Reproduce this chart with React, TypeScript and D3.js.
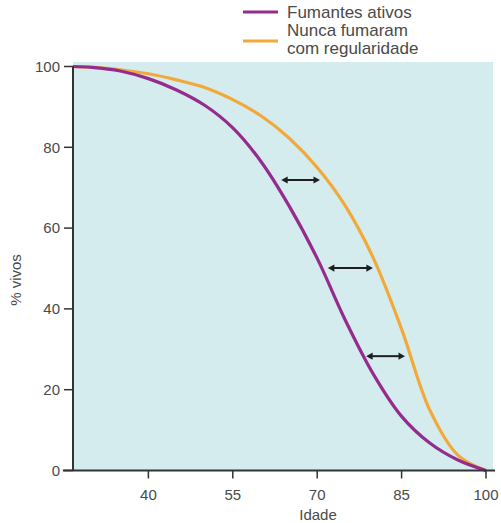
import React from "react";
import * as d3 from "d3";

const ages = [26.6, 30, 35, 40, 45, 50, 55, 60, 65, 70, 75, 80, 85, 90, 95, 100];
const smokers = [100, 99.8, 98.9, 97.0, 94.2, 90.4, 84.8, 76.5, 65.5, 52.5, 37.2, 23.8, 13.4, 6.8, 2.6, 0];
const neverSmoked = [100, 99.8, 99.2, 98.2, 96.7, 94.8, 91.8, 87.8, 82.3, 75, 65.5, 52.5, 35, 15, 3.8, 0];

const xTicks = [40, 55, 70, 85, 100];
const yTicks = [0, 20, 40, 60, 80, 100];

const arrowLevels = [71.9, 50.1, 28.3];
const arrowFrom = [63.6, 71.9, 78.7];
const arrowTo = [70.5, 79.9, 85.6];

const legendLabels = ["Fumantes ativos", "Nunca fumaram", "com regularidade"];
const xTitle = "Idade";
const yTitle = "% vivos";

const PURPLE = "#962b8e";
const ORANGE = "#f3a93a";
const FONT = "'Liberation Sans', Arial, sans-serif";
const TEXT = "#4a4a4a";
const AXIS = "#333";

export default function App() {
  const x = d3.scaleLinear().domain([26.6, 100]).range([73, 486]);
  const y = d3.scaleLinear().domain([0, 100]).range([470.5, 66.5]);
  const line = d3
    .line<[number, number]>()
    .x((d) => x(d[0]))
    .y((d) => y(d[1]))
    .curve(d3.curveCatmullRom.alpha(0.5));
  const pPath = line(ages.map((a, i) => [a, smokers[i]]) as [number, number][]) || "";
  const oPath = line(ages.map((a, i) => [a, neverSmoked[i]]) as [number, number][]) || "";

  const head = 6.5;
  const hw = 3.6;

  return (
    <svg
      width={501}
      height={523}
      style={{ position: "absolute", left: 0, top: 0, background: "#fff" }}
      fontFamily={FONT}
    >
      <rect x={x(26.6)} y={62} width={493 - x(26.6)} height={y(0) - 62} fill="#d4ecee" />
      <path d={oPath} fill="none" stroke={ORANGE} strokeWidth={3.2} />
      <path d={pPath} fill="none" stroke={PURPLE} strokeWidth={3.2} />

      {arrowLevels.map((lv, i) => {
        const x1 = x(arrowFrom[i]);
        const x2 = x(arrowTo[i]);
        const yy = y(lv);
        return (
          <g key={i} fill="#1e1e1e" stroke="#1e1e1e">
            <line x1={x1 + head - 1} x2={x2 - head + 1} y1={yy} y2={yy} strokeWidth={2} />
            <path d={`M${x1},${yy}L${x1 + head},${yy - hw}L${x1 + head},${yy + hw}Z`} stroke="none" />
            <path d={`M${x2},${yy}L${x2 - head},${yy - hw}L${x2 - head},${yy + hw}Z`} stroke="none" />
          </g>
        );
      })}

      {/* axes */}
      <line x1={x(24.8)} x2={x(101.6)} y1={y(0)} y2={y(0)} stroke={AXIS} strokeWidth={2} />
      <line x1={x(26.6)} x2={x(26.6)} y1={y(0)} y2={y(100)} stroke={AXIS} strokeWidth={2} />
      {yTicks.map((t) => (
        <g key={t}>
          <line x1={x(26.6) - 9} x2={x(26.6)} y1={y(t)} y2={y(t)} stroke={AXIS} strokeWidth={1.5} />
          <text x={60} y={y(t)} dy="0.35em" textAnchor="end" fontSize={15} fill={TEXT}>
            {t}
          </text>
        </g>
      ))}
      {xTicks.map((t) => (
        <g key={t}>
          <line x1={x(t)} x2={x(t)} y1={y(0)} y2={y(0) + 8} stroke={AXIS} strokeWidth={1.5} />
          <text x={x(t)} y={500} textAnchor="middle" fontSize={15} fill={TEXT}>
            {t}
          </text>
        </g>
      ))}
      <text x={318} y={520} textAnchor="middle" fontSize={15} fill={TEXT}>
        {xTitle}
      </text>
      <text
        transform={`translate(21,280) rotate(-90)`}
        textAnchor="middle"
        fontSize={15}
        fill={TEXT}
      >
        {yTitle}
      </text>

      {/* legend */}
      <line x1={243} x2={278} y1={12} y2={12} stroke={PURPLE} strokeWidth={3.2} />
      <line x1={243} x2={278} y1={41} y2={41} stroke={ORANGE} strokeWidth={3.2} />
      <text x={287} y={18} fontSize={17} fill={TEXT}>
        {legendLabels[0]}
      </text>
      <text x={287} y={35.5} fontSize={17} fill={TEXT}>
        {legendLabels[1]}
      </text>
      <text x={287} y={54} fontSize={17} fill={TEXT}>
        {legendLabels[2]}
      </text>
    </svg>
  );
}
